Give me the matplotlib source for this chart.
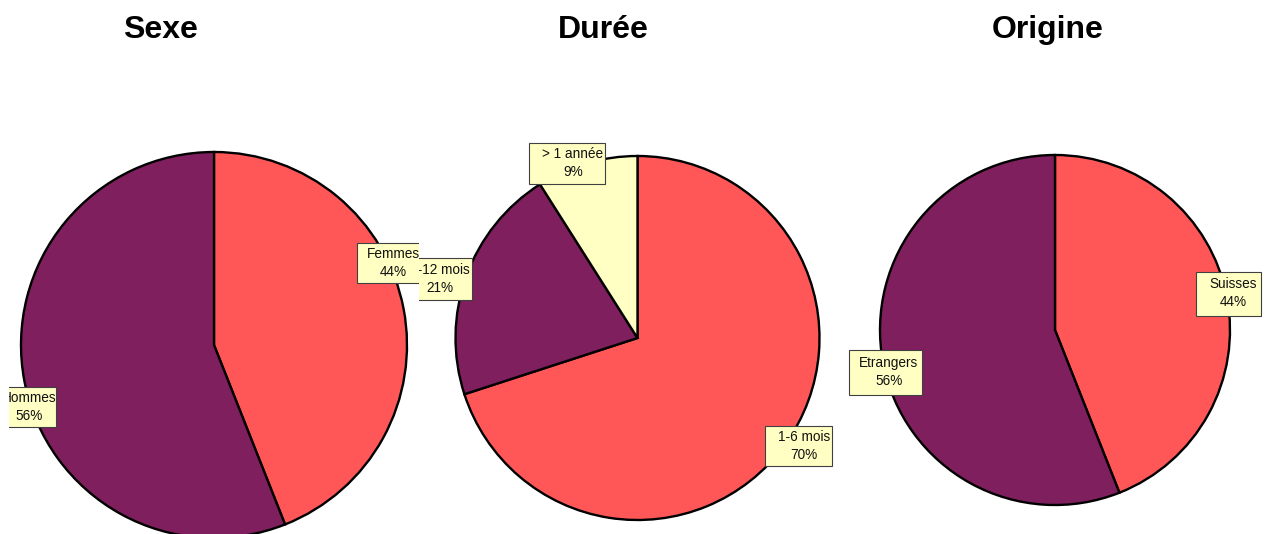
"""Three pie charts: Sexe, Durée, Origine."""
import matplotlib
matplotlib.use('Agg')
import matplotlib.pyplot as plt
from matplotlib.patches import Rectangle

plt.rcParams['font.family'] = ['Liberation Sans', 'DejaVu Sans']

W, H = 1265, 534

# data
titles = ['Sexe', 'Durée', 'Origine']
sexe_labels = ['Femmes', 'Hommes']
sexe_values = [44, 56]
duree_labels = ['1-6 mois', '7-12 mois', '> 1 année']
duree_values = [70, 21, 9]
origine_labels = ['Suisses', 'Etrangers']
origine_values = [44, 56]

RED = '#FF5757'
PURPLE = '#7F1F5E'
YELLOW = '#FFFFC4'

# layout, in pixels from the top-left corner
panels = [
    dict(x0=9, x1=419, center=(214, 345), radius=193, title_x=160,
         labels=sexe_labels, values=sexe_values, colors=[RED, PURPLE],
         boxes=[(357, 243, 64, 40, 393, 263), (-5, 387, 61, 40, 29, 407)]),
    dict(x0=419, x1=842, center=(637.5, 338), radius=182, title_x=603,
         labels=duree_labels, values=duree_values, colors=[RED, PURPLE, YELLOW],
         boxes=[(765, 426, 67, 40, 804, 446), (413, 258, 59, 42, 440, 279),
                (529, 143, 76, 41, 573, 163)]),
    dict(x0=842, x1=1265, center=(1055, 330), radius=175, title_x=1048,
         labels=origine_labels, values=origine_values, colors=[RED, PURPLE],
         boxes=[(1196, 272, 65, 44, 1233, 293), (849, 350, 73, 45, 889, 372)]),
]

fig = plt.figure(figsize=(W / 100, H / 100), dpi=100)

for title, p in zip(titles, panels):
    ax = fig.add_axes([p['x0'] / W, 0, (p['x1'] - p['x0']) / W, 1])
    cx, cy = p['center']
    ax.pie(p['values'], colors=p['colors'], startangle=90, counterclock=False,
           center=(cx, H - cy), radius=p['radius'],
           wedgeprops=dict(edgecolor='black', linewidth=1.7))
    ax.set_xlim(p['x0'], p['x1'])
    ax.set_ylim(0, H)
    ax.set_aspect('auto')
    ax.axis('off')

    total = sum(p['values'])
    for lab, val, (bx, by, bw, bh, tx, ty) in zip(p['labels'], p['values'], p['boxes']):
        ax.add_patch(Rectangle((bx, H - by - bh), bw, bh, facecolor=YELLOW,
                               edgecolor='#404040', linewidth=0.8, zorder=5))
        ax.text(tx, H - ty, f"{lab}\n{val / total * 100:.0f}%", fontsize=9.8,
                ha='center', va='center', multialignment='center',
                linespacing=1.4, color='#111111', zorder=6, clip_on=True)

    fig.text(p['title_x'] / W, 1 - 30 / H, title, fontsize=23, fontweight='bold',
             ha='center', va='center')

fig.savefig('out.png', dpi=100)
